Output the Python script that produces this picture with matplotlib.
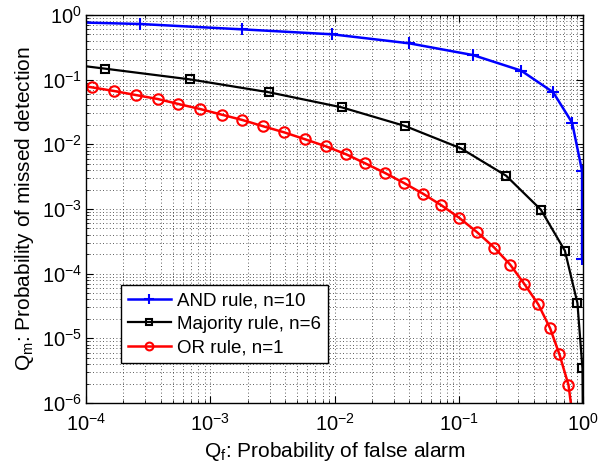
import matplotlib
matplotlib.use("Agg")
import matplotlib.pyplot as plt
from matplotlib.ticker import LogLocator, NullFormatter

plt.rcParams['font.family'] = ['Liberation Sans', 'DejaVu Sans']
plt.rcParams['mathtext.default'] = 'regular'

and_qf = [3.9e-5, 2.72e-4, 1.8e-3, 9.55e-3, 0.0398, 0.130, 0.317, 0.574, 0.815, 0.98, 0.98]
and_qm = [0.80, 0.726, 0.60, 0.503, 0.365, 0.24, 0.138, 0.0638, 0.0216, 3.87e-3, 1.69e-4]

maj_qf = [2.7e-5, 1.42e-4, 6.87e-4, 2.97e-3, 0.01143, 0.0369, 0.1038, 0.240, 0.457, 0.713,
          0.899, 0.987, 0.999]
maj_qm = [0.22, 0.148, 0.101, 0.0638, 0.0373, 0.0192, 8.67e-3, 3.27e-3, 9.75e-4, 2.26e-4,
          3.52e-5, 3.44e-6, 2e-7]

or_qf = [7.5e-5, 1.11e-4, 1.68e-4, 2.51e-4, 3.78e-4, 5.53e-4, 8.27e-4, 1.24e-3, 1.81e-3, 2.67e-3,
         3.94e-3, 5.79e-3, 8.49e-3, 0.01238, 0.0176, 0.0255, 0.0362, 0.0513, 0.0724, 0.101,
         0.1395, 0.193, 0.2585, 0.335, 0.436, 0.542, 0.644, 0.762, 0.86]
or_qm = [0.086, 0.0762, 0.0668, 0.0579, 0.0502, 0.0421, 0.0352, 0.0287, 0.0238, 0.0190,
         0.0153, 0.01197, 9.33e-3, 7.02e-3, 5.09e-3, 3.60e-3, 2.52e-3, 1.73e-3, 1.14e-3, 7.26e-4,
         4.41e-4, 2.52e-4, 1.38e-4, 7.0e-5, 3.34e-5, 1.43e-5, 5.66e-6, 1.90e-6, 3.2e-7]

labels = ['AND rule, n=10', 'Majority rule, n=6', 'OR rule, n=1']

fig = plt.figure(figsize=(6.1, 4.63), dpi=100)
ax = fig.add_axes([0.141, 0.1296, 0.815, 0.838])

ax.loglog(and_qf, and_qm, color='#0000ff', lw=1.8, marker='+', ms=9, mew=1.5, label=labels[0])
ax.loglog(maj_qf, maj_qm, color='black', lw=1.6, marker='s', ms=6, mew=1.5,
          mfc='none', label=labels[1])
ax.loglog(or_qf, or_qm, color='#ff0000', lw=1.8, marker='o', ms=7.5, mew=1.5,
          mfc='none', label=labels[2])

ax.set_xlim(1e-4, 1)
ax.set_ylim(1e-6, 1)
ax.xaxis.set_major_locator(LogLocator(base=10, numticks=10))
ax.yaxis.set_major_locator(LogLocator(base=10, numticks=10))
ax.xaxis.set_minor_locator(LogLocator(base=10, subs=range(2, 10), numticks=20))
ax.yaxis.set_minor_locator(LogLocator(base=10, subs=range(2, 10), numticks=20))
ax.xaxis.set_minor_formatter(NullFormatter())
ax.yaxis.set_minor_formatter(NullFormatter())

ax.grid(True, which='both', color='0.15', linestyle=(0, (1, 3)), lw=0.6)
ax.tick_params(which='both', direction='in', top=True, right=True, labelsize=14.5)
ax.tick_params(which='major', length=5)
ax.tick_params(axis='x', which='major', pad=7)
ax.tick_params(axis='y', which='major', pad=3)
ax.tick_params(which='minor', length=2.5)
for s in ax.spines.values():
    s.set_linewidth(1.0)

ax.set_xlabel('Q$_{f}$: Probability of false alarm', fontsize=15, labelpad=4)
ax.set_ylabel('Q$_{m}$: Probability of missed detection', fontsize=15, labelpad=4)

leg = ax.legend(loc='lower left', bbox_to_anchor=(0.0704, 0.103), fontsize=13.5,
                fancybox=False, edgecolor='black', framealpha=1, borderaxespad=0,
                handlelength=2.3, handletextpad=0.35, borderpad=0.35, labelspacing=0.35,
                markerscale=0.75)
leg.get_frame().set_linewidth(1.0)

fig.savefig('out.png', dpi=100)
